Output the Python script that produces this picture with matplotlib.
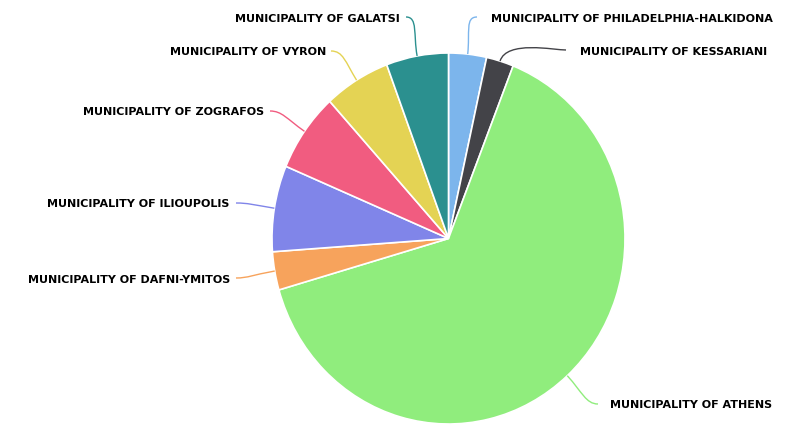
import numpy as np
import matplotlib
matplotlib.use("Agg")
import matplotlib.pyplot as plt
from matplotlib.path import Path
from matplotlib.patches import PathPatch

labels = [
    "MUNICIPALITY OF PHILADELPHIA-HALKIDONA",
    "MUNICIPALITY OF KESSARIANI",
    "MUNICIPALITY OF ATHENS",
    "MUNICIPALITY OF DAFNI-YMITOS",
    "MUNICIPALITY OF ILIOUPOLIS",
    "MUNICIPALITY OF ZOGRAFOS",
    "MUNICIPALITY OF VYRON",
    "MUNICIPALITY OF GALATSI",
]
values = [3.47, 2.5, 64.56, 3.33, 7.5, 6.89, 6.06, 5.69]
colors = ["#7cb5ec", "#434348", "#90ed7d", "#f7a35c", "#8085e9", "#f15c80", "#e4d354", "#2b908f"]

W, H = 795, 433
fig = plt.figure(figsize=(W / 100, H / 100), dpi=100)

# pie area in pixels
left, right, top, bottom = 272, 625, 53, 424
cx, cy_pix = (left + right) / 2, (top + bottom) / 2
Rx, Ry = (right - left) / 2, (bottom - top) / 2

pax = fig.add_axes([left / W, (H - bottom) / H, (right - left) / W, (bottom - top) / H])
pax.pie(values, colors=colors, startangle=90, counterclock=False, radius=1,
        wedgeprops=dict(edgecolor="white", linewidth=1.2))
pax.set_aspect("auto")
pax.set_xlim(-1, 1)
pax.set_ylim(-1, 1)
pax.axis("off")

ax = fig.add_axes([0, 0, 1, 1])
ax.set_xlim(0, W)
ax.set_ylim(0, H)
ax.patch.set_alpha(0)
ax.axis("off")

cy = H - cy_pix

# label anchor positions in pixels (x, y, ha) and connector end
label_pos = [
    (491, 19, "left", (477, 17)),
    (580, 52, "left", (566, 50)),
    (610, 405, "left", (598, 404)),
    (230, 280, "right", (236, 278)),
    (229, 204, "right", (236, 203)),
    (264, 112, "right", (270, 111)),
    (326, 52, "right", (331, 51)),
    (400, 19, "right", (406, 17)),
]

total = sum(values)
cum = 0
for v, c, lab, (lx, ly, ha, (ex, ey)) in zip(values, colors, labels, label_pos):
    mid = (cum + v / 2) / total * 2 * np.pi
    cum += v
    ux, uy = np.sin(mid), np.cos(mid)
    p0 = (cx + Rx * ux, cy + Ry * uy)
    p3 = (ex, H - ey)
    c1 = (cx + (Rx + 22) * ux, cy + (Ry + 22) * uy)
    dirx = -1 if ha == "left" else 1
    c2 = (p3[0] + dirx * 12, p3[1])
    path = Path([p0, c1, c2, p3], [Path.MOVETO, Path.CURVE4, Path.CURVE4, Path.CURVE4])
    ax.add_patch(PathPatch(path, facecolor="none", edgecolor=c, linewidth=1))
    ax.text(lx, H - ly, lab, ha=ha, va="center", fontsize=8, fontweight="bold",
            color="#000000", family="DejaVu Sans")

fig.savefig("out.png", dpi=100)
